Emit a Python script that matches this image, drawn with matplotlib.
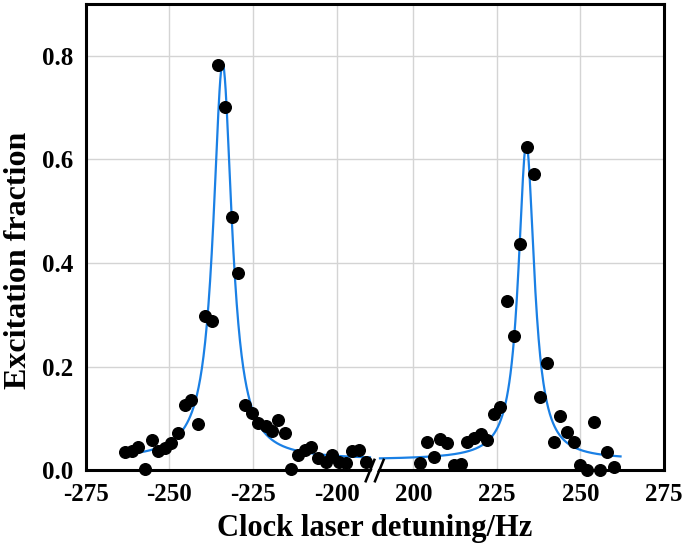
import matplotlib
matplotlib.use('Agg')
import matplotlib.pyplot as plt
import matplotlib.patches as patches
import numpy as np

# measured points, negative detuning side (Hz, excitation fraction)
left_x = [-263.3, -261.3, -259.3, -257.3, -255.3, -253.3, -251.3, -249.4, -247.4, -245.4,
          -243.6, -241.4, -239.4, -237.2, -235.4, -233.4, -231.4, -229.4, -227.4, -225.4,
          -223.4, -221.2, -219.4, -217.4, -215.4, -213.5, -211.5, -209.4, -207.5, -205.5,
          -203.2, -201.3, -199.3, -197.3, -195.3, -193.3, -191.3]
left_y = [0.034, 0.036, 0.045, 0.003, 0.058, 0.037, 0.042, 0.052, 0.071, 0.126,
          0.136, 0.089, 0.297, 0.288, 0.783, 0.702, 0.488, 0.380, 0.126, 0.110,
          0.090, 0.085, 0.076, 0.097, 0.071, 0.003, 0.029, 0.039, 0.045, 0.023,
          0.016, 0.030, 0.016, 0.014, 0.036, 0.038, 0.016]

# measured points, positive detuning side
right_x = [202.1, 204.1, 206.1, 208.1, 210.1, 212.1, 214.1, 216.1, 218.1, 220.1,
           222.1, 224.1, 226.0, 228.1, 230.0, 232.0, 234.0, 236.0, 238.0, 240.0,
           242.0, 244.0, 246.0, 248.0, 250.0, 252.0, 254.0, 256.0, 258.0, 260.0]
right_y = [0.014, 0.055, 0.025, 0.060, 0.052, 0.009, 0.011, 0.055, 0.062, 0.069,
           0.058, 0.108, 0.122, 0.326, 0.259, 0.436, 0.623, 0.572, 0.142, 0.207,
           0.055, 0.105, 0.074, 0.055, 0.009, 0.0, 0.092, 0.0, 0.034, 0.005]

# Lorentzian fit parameters (center, amplitude, half width, offset)
left_fit = (-234.1, 0.765, 3.4, 0.02)
right_fit = (233.8, 0.610, 2.9, 0.02)

xtick_values = [-275, -250, -225, -200, 200, 225, 250, 275]
ytick_values = [0.0, 0.2, 0.4, 0.6, 0.8]

# positive side is shifted left so both windows share one axis
SHIFT = 377
BREAK = -188.5


def lorentz(x, x0, a, g, b):
    return b + a / (1 + ((x - x0) / g) ** 2)


def to_axis(x):
    x = np.asarray(x, dtype=float)
    return np.where(x > 0, x - SHIFT, x)


plt.rcParams['font.family'] = ['Liberation Serif', 'DejaVu Serif']
plt.rcParams['font.weight'] = 'bold'

fig = plt.figure(figsize=(6.85, 5.55), dpi=100)
ax = fig.add_axes([0.1255, 0.153, 0.8438, 0.8398])

xl = np.linspace(-263.5, -190, 600)
xr = np.linspace(190, 262, 600)
ax.plot(to_axis(xl), lorentz(xl, *left_fit), color='#1a80e5', lw=1.6, zorder=3)
ax.plot(to_axis(xr), lorentz(xr, *right_fit), color='#1a80e5', lw=1.6, zorder=3)

ax.scatter(to_axis(left_x), left_y, s=70, color='black', zorder=4, clip_on=False)
ax.scatter(to_axis(right_x), right_y, s=70, color='black', zorder=4, clip_on=False)

ax.set_xlim(-275, 275 - SHIFT)
ax.set_ylim(0, 0.9)
ax.set_xticks(to_axis(xtick_values))
ax.set_xticklabels([str(v) for v in xtick_values])
ax.set_yticks(ytick_values)
ax.set_yticklabels(['%.1f' % v for v in ytick_values])
ax.tick_params(length=0, labelsize=18, pad=9)
for lab in ax.get_xticklabels() + ax.get_yticklabels():
    lab.set_fontweight('bold')

ax.grid(True, color='#d4d4d4', lw=1.0)
ax.set_axisbelow(True)
for sp in ax.spines.values():
    sp.set_linewidth(2.2)
    sp.set_color('black')

ax.set_xlabel('Clock laser detuning/Hz', fontsize=22, fontweight='bold', labelpad=6)
ax.set_ylabel('Excitation fraction', fontsize=23, fontweight='bold')
ax.yaxis.set_label_coords(-0.092, 0.45)

# axis break mark
bx = (BREAK + 275) / (275 - SHIFT + 275)
gap = patches.Polygon([[bx - 0.012, -0.02], [bx + 0.002, 0.02], [bx + 0.012, 0.02], [bx - 0.002, -0.02]],
                      closed=True, transform=ax.transAxes, facecolor='white', edgecolor='none',
                      clip_on=False, zorder=5)
ax.add_patch(gap)
ax.plot([bx - 0.016, bx - 0.001], [-0.024, 0.022], transform=ax.transAxes, color='black',
        lw=1.8, clip_on=False, zorder=6)
ax.plot([bx + 0.000, bx + 0.015], [-0.024, 0.022], transform=ax.transAxes, color='black',
        lw=1.8, clip_on=False, zorder=6)

fig.savefig('out.png', dpi=100)
